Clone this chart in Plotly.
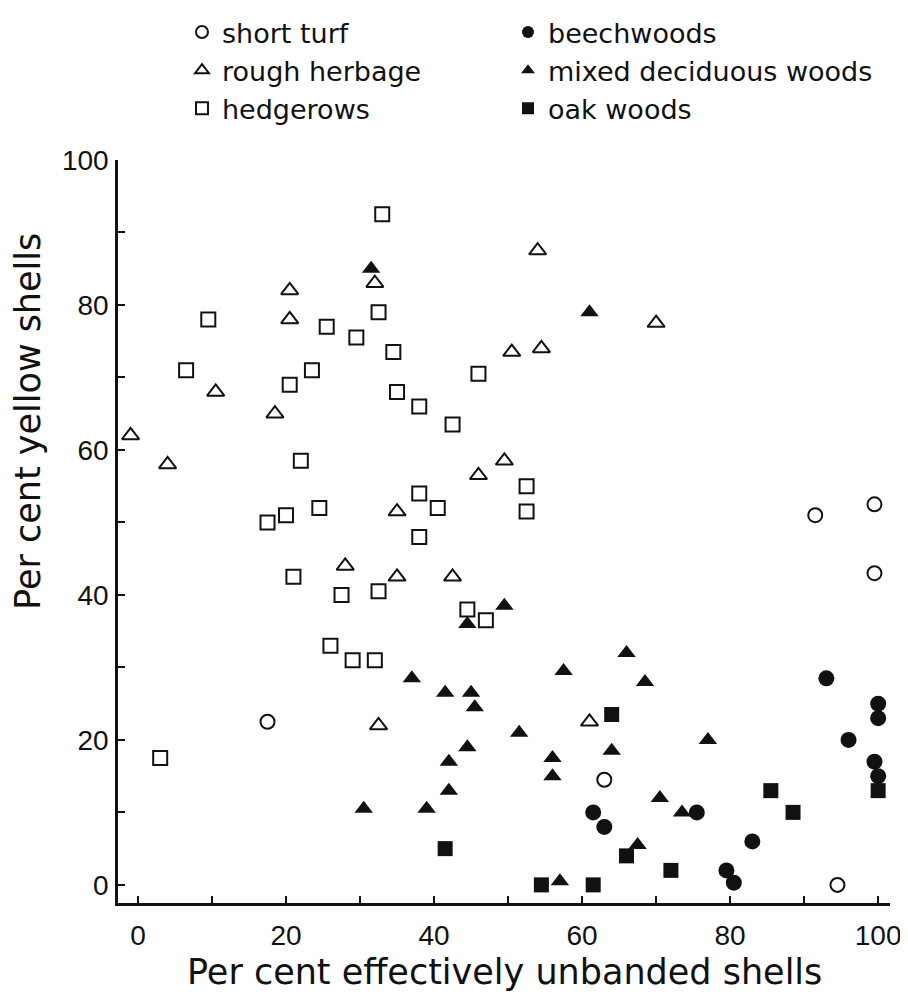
import plotly.graph_objects as go

# ---- data ----
short_turf_x = [17.5, 63, 91.5, 99.5, 99.5, 94.5]
short_turf_y = [22.5, 14.5, 51, 52.5, 43, 0]

rough_x = [-1, 4, 10.5, 18.5, 20.5, 20.5, 32, 54, 70, 50.5, 54.5, 49.5, 46, 35, 28, 35, 42.5, 32.5, 61]
rough_y = [62, 58, 68, 65, 82, 78, 83, 87.5, 77.5, 73.5, 74, 58.5, 56.5, 51.5, 44, 42.5, 42.5, 22, 22.5]

hedge_x = [33, 32.5, 9.5, 25.5, 29.5, 34.5, 6.5, 23.5, 20.5, 35, 46, 38, 42.5, 22, 24.5, 20, 17.5,
           21, 27.5, 32.5, 26, 29, 32, 3, 52.5, 38, 40.5, 52.5, 38, 44.5, 47]
hedge_y = [92.5, 79, 78, 77, 75.5, 73.5, 71, 71, 69, 68, 70.5, 66, 63.5, 58.5, 52, 51, 50,
           42.5, 40, 40.5, 33, 31, 31, 17.5, 55, 54, 52, 51.5, 48, 38, 36.5]

beech_x = [93, 100, 100, 96, 99.5, 100, 75.5, 61.5, 63, 83, 79.5, 80.5]
beech_y = [28.5, 25, 23, 20, 17, 15, 10, 10, 8, 6, 2, 0.3]

mixed_x = [31.5, 61, 49.5, 44.5, 66, 57.5, 37, 68.5, 41.5, 45, 45.5, 51.5, 77, 44.5, 42, 56, 56,
           42, 30.5, 39, 57, 64, 70.5, 73.5, 67.5]
mixed_y = [85, 79, 38.5, 36, 32, 29.5, 28.5, 28, 26.5, 26.5, 24.5, 21, 20, 19, 17, 17.5, 15,
           13, 10.5, 10.5, 0.5, 18.5, 12, 10, 5.5]

oak_x = [64, 41.5, 54.5, 61.5, 100, 85.5, 88.5, 66, 72]
oak_y = [23.5, 5, 0, 0, 13, 13, 10, 4, 2]

x_title = "Per cent effectively unbanded shells"
y_title = "Per cent yellow shells"

TICK_FONT = "Liberation Sans, Arial, Helvetica, sans-serif"
TEXT_FONT = "DejaVu Sans, Liberation Sans, Arial, sans-serif"
INK = "#111111"

# the page body has an 8px default margin, so the figure is drawn 8px smaller
W, H = 900, 984

fig = go.Figure()

def add(name, xs, ys, symbol, size, lw=0, legend="legend"):
    fig.add_trace(go.Scatter(
        x=xs, y=ys, mode="markers", name=name, legend=legend,
        marker=dict(symbol=symbol, size=size, color=INK,
                    line=dict(width=lw, color=INK)),
    ))

add("short turf", short_turf_x, short_turf_y, "circle-open", 14, 2)
add("rough herbage", rough_x, rough_y, "triangle-up-open", 15, 2)
add("hedgerows", hedge_x, hedge_y, "square-open", 14, 2)
add("beechwoods", beech_x, beech_y, "circle", 16, legend="legend2")
add("mixed deciduous woods", mixed_x, mixed_y, "triangle-up", 16, legend="legend2")
add("oak woods", oak_x, oak_y, "square", 15, legend="legend2")

axis_common = dict(
    showgrid=False, zeroline=False, showline=True, linecolor=INK, linewidth=2.5,
    ticks="inside", ticklen=7, tickwidth=2, tickcolor=INK,
    tickfont=dict(family=TICK_FONT, size=28, color=INK),
    minor=dict(dtick=10, ticks="inside", ticklen=7, tickwidth=2, tickcolor=INK),
    tick0=0, dtick=20, automargin=False,
)

fig.update_xaxes(range=[-2.7, 101.6], ticklabelstandoff=6, tickangle=0, **axis_common)
fig.update_yaxes(range=[-2.5, 100], ticklabelstandoff=1, **axis_common)

legend_common = dict(
    orientation="v", xref="container", yref="container",
    xanchor="left", yanchor="top",
    font=dict(family=TEXT_FONT, size=27, color=INK),
    itemsizing="constant", bgcolor="rgba(0,0,0,0)",
)

fig.update_layout(
    width=W, height=H,
    margin=dict(l=110, r=18, t=152, b=89, autoexpand=False),
    paper_bgcolor="white", plot_bgcolor="white",
    showlegend=True,
    legend=dict(x=174 / W, y=1.0, **legend_common),
    legend2=dict(x=500 / W, y=1.0, **legend_common),
    annotations=[
        dict(text=x_title, xref="paper", yref="paper", x=0.5, y=-0.0925,
             xanchor="center", yanchor="middle", showarrow=False,
             font=dict(family=TEXT_FONT, size=35, color=INK)),
        dict(text=y_title, xref="paper", yref="y", x=-0.1166, y=64,
             xanchor="center", yanchor="middle", showarrow=False, textangle=-90,
             font=dict(family=TEXT_FONT, size=35, color=INK)),
    ],
)

fig.write_html("out.html")
